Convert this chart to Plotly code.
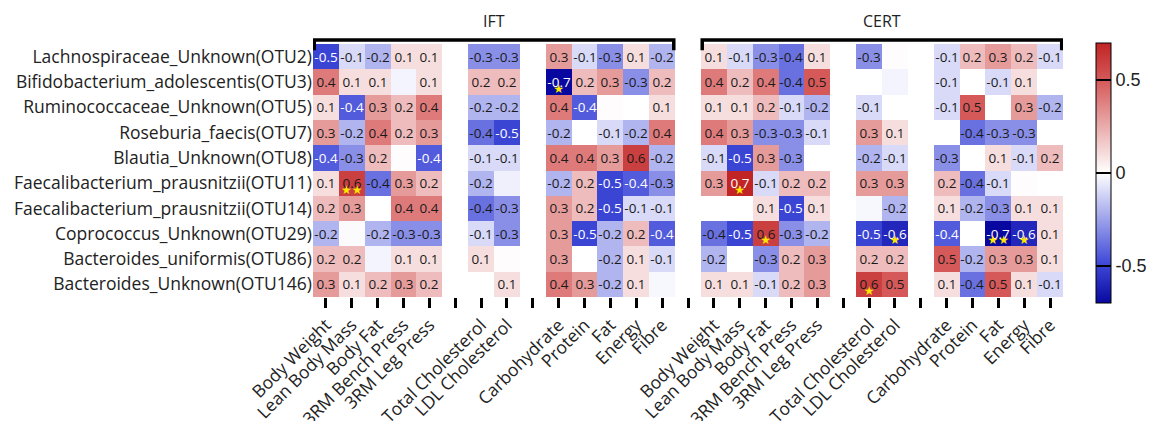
import plotly.graph_objects as go

# ---------------- data ----------------
rows = [
    "Lachnospiraceae_Unknown(OTU2)",
    "Bifidobacterium_adolescentis(OTU3)",
    "Ruminococcaceae_Unknown(OTU5)",
    "Roseburia_faecis(OTU7)",
    "Blautia_Unknown(OTU8)",
    "Faecalibacterium_prausnitzii(OTU11)",
    "Faecalibacterium_prausnitzii(OTU14)",
    "Coprococcus_Unknown(OTU29)",
    "Bacteroides_uniformis(OTU86)",
    "Bacteroides_Unknown(OTU146)",
]
groups = ["IFT", "CERT"]
body_measures = ["Body Weight", "Lean Body Mass", "Body Fat", "3RM Bench Press", "3RM Leg Press"]
lipid_measures = ["Total Cholesterol", "LDL Cholesterol"]
diet_measures = ["Carbohydrate", "Protein", "Fat", "Energy", "Fibre"]

# columns: 5 body | 2 lipid | 5 diet
ift_values = [
    [-0.5, -0.1, -0.2, 0.1, 0.1, -0.3, -0.3, 0.3, -0.1, -0.3, 0.1, -0.2],
    [0.4, 0.1, 0.1, -0.03, 0.1, 0.2, 0.2, -0.7, 0.2, 0.3, -0.3, 0.2],
    [0.1, -0.44, 0.3, 0.2, 0.4, -0.2, -0.2, 0.4, -0.44, 0.01, 0.0, 0.1],
    [0.3, -0.2, 0.4, 0.2, 0.3, -0.38, -0.5, -0.2, 0.0, -0.1, -0.2, 0.4],
    [-0.44, -0.3, 0.2, 0.01, -0.44, -0.1, -0.1, 0.4, 0.4, 0.3, 0.6, -0.2],
    [0.1, 0.6, -0.38, 0.3, 0.2, -0.2, -0.04, -0.2, 0.2, -0.5, -0.44, -0.3],
    [0.2, 0.3, 0.0, 0.4, 0.4, -0.38, -0.3, 0.3, 0.2, -0.5, -0.1, -0.1],
    [-0.2, -0.01, -0.2, -0.3, -0.3, -0.1, -0.3, 0.3, -0.5, -0.2, 0.2, -0.44],
    [0.2, 0.2, -0.03, 0.1, 0.1, 0.1, 0.01, 0.3, 0.0, -0.2, 0.1, -0.1],
    [0.3, 0.1, 0.2, 0.3, 0.2, 0.0, 0.1, 0.4, 0.3, -0.2, 0.1, -0.02],
]
cert_values = [
    [0.1, -0.1, -0.3, -0.38, 0.1, -0.3, 0.01, -0.1, 0.2, 0.3, 0.2, -0.1],
    [0.4, 0.2, 0.4, -0.38, 0.5, 0.0, -0.03, -0.1, 0.0, -0.1, 0.1, 0.0],
    [0.1, 0.1, 0.2, -0.1, -0.2, -0.1, 0.0, -0.1, 0.5, 0.0, 0.3, -0.2],
    [0.4, 0.3, -0.3, -0.3, -0.1, 0.3, 0.1, 0.0, -0.38, -0.3, -0.3, 0.0],
    [-0.1, -0.5, 0.3, -0.3, 0.0, -0.2, -0.1, -0.3, 0.0, 0.1, -0.1, 0.2],
    [0.3, 0.7, -0.1, 0.2, 0.2, 0.3, 0.3, 0.2, -0.38, -0.1, 0.01, 0.0],
    [0.0, 0.0, 0.1, -0.5, 0.1, -0.02, -0.2, 0.1, -0.2, -0.3, 0.1, 0.1],
    [-0.38, -0.5, 0.6, -0.3, -0.2, -0.5, -0.6, -0.44, 0.0, -0.7, -0.6, 0.1],
    [-0.2, 0.0, -0.3, 0.2, 0.3, 0.2, 0.2, 0.5, -0.2, 0.3, 0.3, 0.1],
    [0.1, 0.1, -0.1, 0.2, 0.3, 0.6, 0.5, 0.1, -0.38, 0.5, 0.1, -0.1],
]
# significance markers: (row, measure, number of stars)
ift_sig = [
    ("Bifidobacterium_adolescentis(OTU3)", "Carbohydrate", 1),
    ("Faecalibacterium_prausnitzii(OTU11)", "Lean Body Mass", 2),
]
cert_sig = [
    ("Faecalibacterium_prausnitzii(OTU11)", "Lean Body Mass", 1),
    ("Coprococcus_Unknown(OTU29)", "Body Fat", 1),
    ("Coprococcus_Unknown(OTU29)", "LDL Cholesterol", 1),
    ("Coprococcus_Unknown(OTU29)", "Fat", 2),
    ("Coprococcus_Unknown(OTU29)", "Energy", 1),
    ("Bacteroides_Unknown(OTU146)", "Total Cholesterol", 1),
]
colorbar_ticks = [-0.5, 0, 0.5]

# ---------------- build grid ----------------
group_values = [ift_values, cert_values]
group_sig = [ift_sig, cert_sig]
measures = body_measures + lipid_measures + diet_measures
blocks = [body_measures, lipid_measures, diet_measures]

col_labels, col_src = [], []
group_span = []
for gi, g in enumerate(groups):
    if gi > 0:
        col_labels.append("")
        col_src.append(None)
    start = len(col_labels)
    j = 0
    for bi, block in enumerate(blocks):
        if bi > 0:
            col_labels.append("")
            col_src.append(None)
        for m in block:
            col_labels.append(m)
            col_src.append((gi, j))
            j += 1
    group_span.append((start, len(col_labels) - 1))

ncol = len(col_labels)
xs = list(range(ncol))
ys = list(range(len(rows)))

z, txt_dark, txt_light = [], [], []
for r in range(len(rows)):
    zr, td, tl = [], [], []
    for c in range(ncol):
        src = col_src[c]
        if src is None:
            zr.append(None); td.append(""); tl.append("")
            continue
        v = group_values[src[0]][r][src[1]]
        zr.append(v)
        s = "" if abs(v) < 0.05 else f"{v:.1f}"
        light = v < -0.42 or v > 0.65
        td.append("" if light else s)
        tl.append(s if light else "")
    z.append(zr); txt_dark.append(td); txt_light.append(tl)

colorscale = [
    [0.0, "rgb(8,8,160)"],
    [0.15, "rgb(62,72,215)"],
    [0.5, "rgb(255,255,255)"],
    [0.85, "rgb(214,92,92)"],
    [1.0, "rgb(192,36,36)"],
]

FONT = "Open Sans"
fig = go.Figure()
fig.add_trace(go.Heatmap(
    x=xs, y=ys, z=z, zmin=-0.7, zmax=0.7, colorscale=colorscale,
    text=txt_dark, texttemplate="%{text}",
    textfont=dict(family=FONT, size=13.5, color="#1a1a1a"),
    xgap=0, ygap=0, hoverinfo="skip",
    colorbar=dict(
        x=1.044, xanchor="left", xpad=0, y=0.49, yanchor="middle",
        thickness=15, lenmode="pixels", len=260, ypad=0,
        outlinecolor="black", outlinewidth=1,
        tickvals=colorbar_ticks, ticktext=["-0.5", "0", "0.5"],
        ticks="inside", ticklen=15, tickwidth=2, tickcolor="black",
        tickfont=dict(family="Liberation Sans", size=18, color="#222"),
    ),
))
fig.add_trace(go.Heatmap(
    x=xs, y=ys, z=z, zmin=-0.7, zmax=0.7,
    colorscale=[[0, "rgba(0,0,0,0)"], [1, "rgba(0,0,0,0)"]],
    text=txt_light, texttemplate="%{text}",
    textfont=dict(family=FONT, size=13.5, color="white"),
    showscale=False, hoverinfo="skip",
))

# significance stars (drawn in lower part of the cell)
STAR_DROP = 0.3
sx, sy, st = [], [], []
for gi, sig in enumerate(group_sig):
    for rname, mname, n in sig:
        r = rows.index(rname)
        j = measures.index(mname)
        c = col_src.index((gi, j))
        sx.append(c); sy.append(r + STAR_DROP); st.append("★" * n)
fig.add_trace(go.Scatter(
    x=sx, y=sy, text=st, mode="text", textposition="middle center",
    textfont=dict(family="DejaVu Sans", size=12, color="#FFE600"),
    hoverinfo="skip", showlegend=False,
))

# group brackets and titles
for gi, g in enumerate(groups):
    a, b = group_span[gi]
    fig.add_shape(type="path", xref="x", yref="paper",
                  path=f"M {a-0.45},0.975 L {a-0.45},1.016 L {b+0.45},1.016 L {b+0.45},0.975",
                  line=dict(color="black", width=3.5))
    fig.add_annotation(x=(a + b) / 2, y=1.09, xref="x", yref="paper",
                       text=g, showarrow=False, yanchor="middle",
                       font=dict(family=FONT, size=16, color="#222"))

fig.update_layout(
    width=1159, height=421,
    margin=dict(l=305, r=104, t=36, b=132, autoexpand=False),
    paper_bgcolor="white", plot_bgcolor="white",
    showlegend=False,
    font=dict(family=FONT, color="#222"),
)
fig.update_xaxes(
    range=[-0.5, ncol - 0.5], tickmode="array", tickvals=xs, ticktext=col_labels,
    tickangle=-45, ticks="outside", ticklen=10, tickwidth=3, tickcolor="black",
    tickfont=dict(family=FONT, size=17.5, color="#222"),
    showgrid=False, zeroline=False, showline=False, automargin=False,
)
fig.update_yaxes(
    range=[len(rows) - 0.5, -0.5], tickmode="array", tickvals=ys, ticktext=rows,
    ticks="", tickfont=dict(family=FONT, size=17.5, color="#222"),
    showgrid=False, zeroline=False, showline=False, automargin=False,
)
fig.write_html("out.html")
